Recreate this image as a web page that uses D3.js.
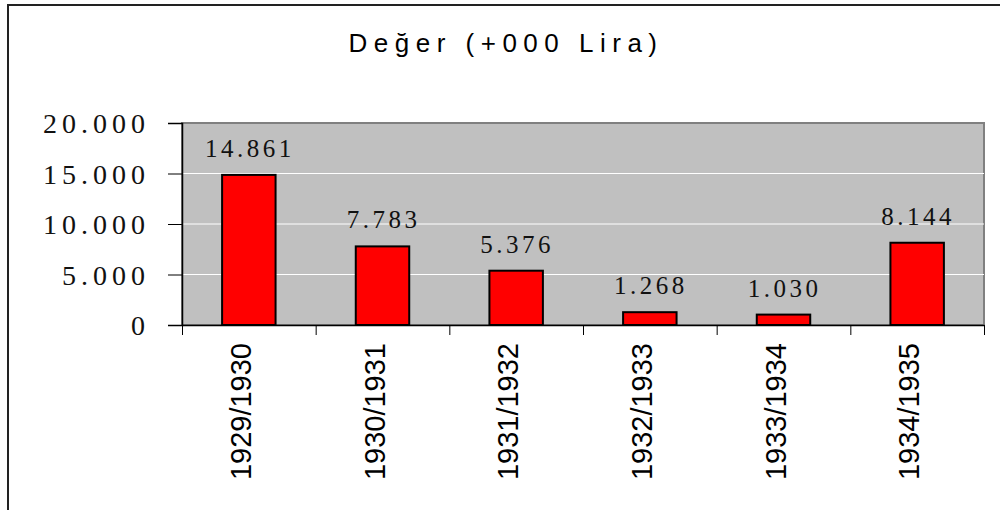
<!DOCTYPE html>
<html>
<head>
<meta charset="utf-8">
<script src="https://cdn.jsdelivr.net/npm/d3@7"></script>
<style>
  body { margin: 0; background: #fff; }
</style>
</head>
<body>
<div id="chart"></div>
<script>
let svgWidth = 1000;
let svgHeight = 510;

// data
let years = ["1929/1930", "1930/1931", "1931/1932", "1932/1933", "1933/1934", "1934/1935"];
let values = [14861, 7783, 5376, 1268, 1030, 8144];
let yTicks = [0, 5000, 10000, 15000, 20000];
let title = "Değer (+000 Lira)";

let margin = { top: 123, right: 16, bottom: 185, left: 182 };
let width = svgWidth - margin.left - margin.right;
let height = svgHeight - margin.top - margin.bottom;

let trLocale = d3.formatLocale({ decimal: ",", thousands: ".", grouping: [3], currency: ["", ""] });
let fmt = trLocale.format(",d");

let svg = d3.select("#chart")
  .append("svg")
  .attr("width", svgWidth)
  .attr("height", svgHeight);

// outer frame, runs off the right and bottom edge
svg.append("rect")
  .attr("x", 8)
  .attr("y", 5)
  .attr("width", 1100)
  .attr("height", 600)
  .attr("fill", "none")
  .attr("stroke", "#222")
  .attr("stroke-width", 2);

svg.append("text")
  .attr("x", 506)
  .attr("y", 52)
  .attr("text-anchor", "middle")
  .attr("font-family", "Liberation Sans, Arial, sans-serif")
  .attr("font-size", "26px")
  .attr("letter-spacing", "6.5px")
  .text(title);

let chartGroup = svg.append("g")
  .attr("transform", `translate(${margin.left}, ${margin.top})`);

let x = d3.scaleBand()
  .domain(years)
  .range([0, width])
  .padding(0);

let xEdges = d3.scaleLinear()
  .domain([0, years.length])
  .range([0, width]);

let y = d3.scaleLinear()
  .domain([0, 20000])
  .range([height, 0]);

// plot background
chartGroup.append("rect")
  .attr("width", width)
  .attr("height", height)
  .attr("fill", "#c0c0c0")
  .attr("stroke", "#808080")
  .attr("stroke-width", 2);

// gridlines
chartGroup.selectAll(".grid")
  .data(yTicks.filter(d => d > 0 && d < 20000))
  .enter()
  .append("line")
  .attr("x1", 0)
  .attr("x2", width)
  .attr("y1", d => y(d))
  .attr("y2", d => y(d))
  .attr("stroke", "#fff")
  .attr("stroke-width", 1);

// bars
let barW = x.bandwidth() * 0.4;
chartGroup.selectAll(".bar")
  .data(values)
  .enter()
  .append("rect")
  .attr("x", (d, i) => x(years[i]) + (x.bandwidth() - barW) / 2)
  .attr("y", d => y(d))
  .attr("width", barW)
  .attr("height", d => height - y(d))
  .attr("fill", "#ff0000")
  .attr("stroke", "#000")
  .attr("stroke-width", 2);

// value labels
chartGroup.selectAll(".val")
  .data(values)
  .enter()
  .append("text")
  .attr("x", (d, i) => x(years[i]) + x.bandwidth() / 2 + 1)
  .attr("y", d => y(d) - 18)
  .attr("text-anchor", "middle")
  .attr("font-family", "Liberation Serif, Times New Roman, serif")
  .attr("font-size", "25px")
  .attr("letter-spacing", "3.5px")
  .attr("fill", "#111")
  .text(d => fmt(d));

// y axis
let leftAxis = d3.axisLeft(y)
  .tickValues(yTicks)
  .tickFormat(fmt)
  .tickSize(14)
  .tickPadding(18);

let yAxisG = chartGroup.append("g").call(leftAxis);
yAxisG.select(".domain").attr("stroke", "#000").attr("stroke-width", 1.5);
yAxisG.selectAll("text")
  .attr("font-family", "Liberation Serif, Times New Roman, serif")
  .attr("font-size", "28px")
  .attr("letter-spacing", "5px")
  .attr("dy", "0.35em")
  .attr("fill", "#111");

// x axis, ticks at category edges
let bottomAxis = d3.axisBottom(xEdges)
  .tickValues(d3.range(years.length + 1))
  .tickFormat("")
  .tickSize(10)
  .tickSizeOuter(0);

let xAxisG = chartGroup.append("g")
  .attr("transform", `translate(0, ${height})`)
  .call(bottomAxis);
xAxisG.select(".domain").attr("stroke", "#000").attr("stroke-width", 1.5);

// rotated category labels
chartGroup.selectAll(".cat")
  .data(years)
  .enter()
  .append("text")
  .attr("transform", d => `translate(${x(d) + x.bandwidth() / 2 + 2}, ${height + 18}) rotate(-90)`)
  .attr("text-anchor", "end")
  .attr("font-family", "Liberation Sans, Arial, sans-serif")
  .attr("font-size", "29px")
  .attr("fill", "#000")
  .text(d => d);
</script>
</body>
</html>
